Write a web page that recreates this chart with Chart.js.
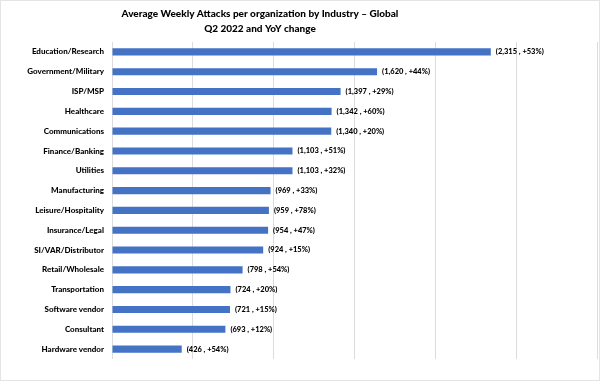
<!DOCTYPE html>
<html>
<head>
<meta charset="utf-8">
<script src="https://cdn.jsdelivr.net/npm/chart.js@4"></script>
<style>
  body { margin: 0; background: #fff; }
  .wrap { width: 598px; height: 379px; border: 1px solid #e4e4e4; }
  canvas { display: block; }
</style>
</head>
<body>
<div class="wrap"><canvas id="attacks" width="598" height="379"></canvas></div>
<script>
const industries = [
  'Education/Research', 'Government/Military', 'ISP/MSP', 'Healthcare',
  'Communications', 'Finance/Banking', 'Utilities', 'Manufacturing',
  'Leisure/Hospitality', 'Insurance/Legal', 'SI/VAR/Distributor',
  'Retail/Wholesale', 'Transportation', 'Software vendor', 'Consultant',
  'Hardware vendor',
];
const weeklyAttacks = [2315, 1620, 1397, 1342, 1340, 1103, 1103, 969, 959, 954, 924, 798, 724, 721, 693, 426];
const yoyChange = ['+53%', '+44%', '+29%', '+60%', '+20%', '+51%', '+32%', '+33%', '+78%', '+47%', '+15%', '+54%', '+20%', '+15%', '+12%', '+54%'];
const titleLines = ['Average Weekly Attacks per organization by Industry \u2013 Global', 'Q2 2022 and YoY change'];

const FONT = 'Lato, "Liberation Sans", Arial, sans-serif';

// title is centred left of the canvas middle in the original, so draw it by hand
const titlePlugin = {
  id: 'twoLineTitle',
  afterDraw(chart) {
    const { ctx } = chart;
    ctx.save();
    ctx.fillStyle = '#000';
    ctx.font = `900 10px ${FONT}`;
    ctx.textAlign = 'center';
    ctx.textBaseline = 'middle';
    ctx.fillText(titleLines[0], 259, 13);
    ctx.fillText(titleLines[1], 259, 28);
    ctx.restore();
  },
};

const valueLabels = {
  id: 'valueLabels',
  afterDatasetsDraw(chart) {
    const { ctx } = chart;
    const meta = chart.getDatasetMeta(0);
    ctx.save();
    ctx.fillStyle = '#000';
    ctx.font = `900 7.5px ${FONT}`;
    ctx.textBaseline = 'middle';
    meta.data.forEach((bar, i) => {
      const txt = `(${weeklyAttacks[i].toLocaleString('en-US')} , ${yoyChange[i]})`;
      ctx.fillText(txt, bar.x + 5, bar.y);
    });
    ctx.restore();
  },
};

new Chart(document.getElementById('attacks'), {
  type: 'bar',
  data: {
    labels: industries,
    datasets: [
      {
        data: weeklyAttacks,
        backgroundColor: '#4472c4',
        categoryPercentage: 1,
        barPercentage: 0.36,
      },
    ],
  },
  plugins: [titlePlugin, valueLabels],
  options: {
    indexAxis: 'y',
    responsive: false,
    animation: false,
    layout: { padding: { top: 41, bottom: 21, right: 2, left: 0 } },
    plugins: {
      legend: { display: false },
      tooltip: { enabled: false },
    },
    scales: {
      x: {
        min: 0,
        max: 2964,
        ticks: { display: false, stepSize: 500 },
        grid: { color: '#dcdcdc', drawTicks: false },
        border: { display: false },
      },
      y: {
        grid: { display: false, drawTicks: false },
        border: { display: false },
        afterFit(axis) { axis.width = 111; },
        ticks: {
          color: '#000',
          padding: 8,
          autoSkip: false,
          font: { family: FONT, size: 8, weight: 900 },
        },
      },
    },
  },
});
</script>
</body>
</html>
